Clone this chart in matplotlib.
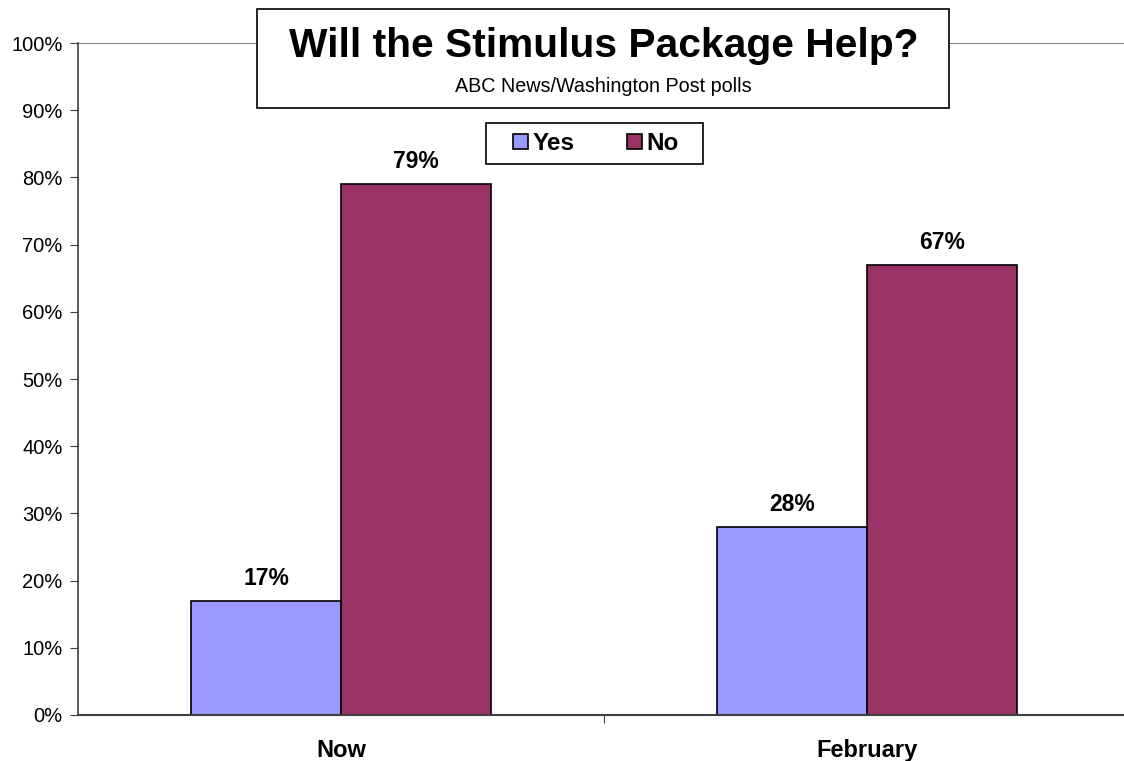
import matplotlib.pyplot as plt
from matplotlib.patches import Rectangle
import numpy as np

plt.rcParams['font.family'] = ['Liberation Sans', 'DejaVu Sans']

# datos de la encuesta
categorias = ["Now", "February"]
si = [17, 28]
no = [79, 67]
series = ["Yes", "No"]
colores = ["#9999FF", "#993366"]
ticks_y = [0, 10, 20, 30, 40, 50, 60, 70, 80, 90, 100]

fig = plt.figure(figsize=(11.24, 7.61), dpi=100)
ax = fig.add_axes([78 / 1124, 46 / 761, 1052 / 1124, 672 / 761])

x = np.arange(len(categorias))
ancho = 0.285
b1 = ax.bar(x - ancho / 2, si, ancho, color=colores[0], edgecolor="black", linewidth=1.2, label=series[0])
b2 = ax.bar(x + ancho / 2, no, ancho, color=colores[1], edgecolor="black", linewidth=1.2, label=series[1])

# etiquetas de valor
for barras in (b1, b2):
    for b in barras:
        ax.annotate(f"{b.get_height():.0f}%", (b.get_x() + b.get_width() / 2, b.get_height()),
                    xytext=(0, 16), textcoords="offset points", ha="center", va="center",
                    fontsize=16.5, fontweight="bold")

ax.set_xlim(-0.5, 1.5)
ax.set_ylim(0, 100)
ax.set_yticks(ticks_y)
ax.set_yticklabels([f"{t}%" for t in ticks_y], fontsize=14.5)
ax.axhline(100, color="#808080", linewidth=1.5, zorder=0)

# ticks de categoria: separador en el medio, etiquetas centradas
ax.set_xticks([0.5])
ax.set_xticklabels([""])
ax.set_xticks(x, minor=True)
ax.set_xticklabels(categorias, minor=True, fontsize=17, fontweight="bold")
ax.tick_params(axis="x", which="minor", length=0, pad=17.5)
ax.tick_params(axis="x", which="major", length=6, direction="out", color="#404040")
ax.tick_params(axis="y", length=6, direction="out", color="#404040", pad=5)

for lado in ["top", "right"]:
    ax.spines[lado].set_visible(False)
ax.spines["left"].set_color("#404040")
ax.spines["bottom"].set_color("#404040")
ax.spines["left"].set_linewidth(1.2)
ax.spines["bottom"].set_linewidth(1.5)

# caja del titulo
fig.patches.append(Rectangle((257 / 1124, 1 - 108 / 761), (949 - 257) / 1124, 99 / 761,
                             transform=fig.transFigure, facecolor="white", edgecolor="black",
                             linewidth=1.2, zorder=5))
fig.text(604 / 1124, 1 - 46 / 761, "Will the Stimulus Package Help?", ha="center", va="center",
         fontsize=29.3, fontweight="bold", zorder=6)
fig.text(603 / 1124, 1 - 86 / 761, "ABC News/Washington Post polls", ha="center", va="center",
         fontsize=14.2, zorder=6)

# caja de la leyenda
fig.patches.append(Rectangle((486 / 1124, 1 - 164 / 761), (703 - 486) / 1124, 41 / 761,
                             transform=fig.transFigure, facecolor="white", edgecolor="black",
                             linewidth=1.2, zorder=5))
leg = fig.legend(handles=[b1, b2], labels=series, loc="center",
                 bbox_to_anchor=(596 / 1124, 1 - 143.5 / 761), bbox_transform=fig.transFigure,
                 ncol=2, frameon=False,
                 prop={"weight": "bold", "size": 17.5}, handlelength=0.62, handleheight=0.62,
                 handletextpad=0.18, columnspacing=2.15, borderpad=0.3, borderaxespad=0)
leg.set_zorder(7)

fig.savefig("out.png", dpi=100)
